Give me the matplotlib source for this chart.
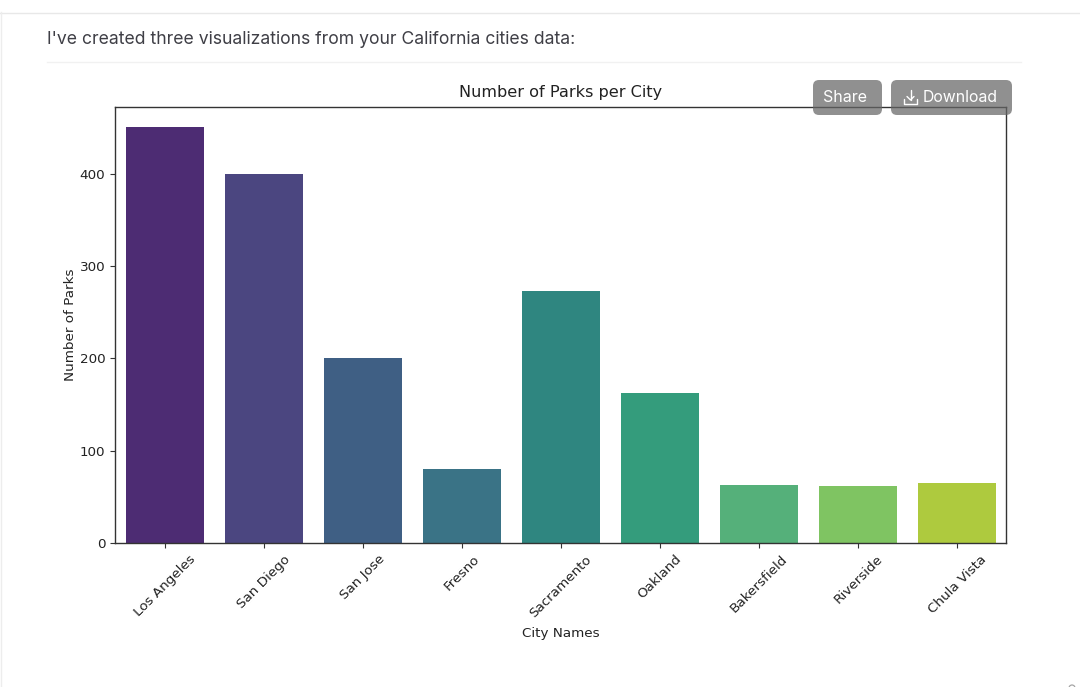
import matplotlib
matplotlib.use("Agg")
import matplotlib.pyplot as plt
from matplotlib.patches import FancyBboxPatch, Arc
from matplotlib.lines import Line2D

cities = ["Los Angeles", "San Diego", "San Jose", "Fresno", "Sacramento",
          "Oakland", "Bakersfield", "Riverside", "Chula Vista"]
parks = [450, 400, 200, 80, 273, 162, 63, 62, 65]
colors = ["#4d2c73", "#4b4680", "#3f5f84", "#3a7386", "#2f8680",
          "#349c7c", "#55b07a", "#7fc462", "#aeca3e"]
yticks = [0, 100, 200, 300, 400]

W, H = 1080, 687
fig = plt.figure(figsize=(W / 100, H / 100), dpi=100, facecolor="white")

def px_axes(l, t, r, b):
    return [l / W, 1 - b / H, (r - l) / W, (b - t) / H]

ax = fig.add_axes(px_axes(115, 107, 1006, 543))
ax.bar(range(len(cities)), parks, width=0.79, color=colors)
ax.set_xlim(-0.505, 8.495)
ax.set_ylim(0, 472)
ax.set_yticks(yticks)
ax.set_xticks(range(len(cities)))
ax.set_xticklabels(cities, rotation=45, ha="center", fontsize=9.7, color="#222222")
ax.tick_params(axis="y", labelsize=9.7, labelcolor="#222222", color="#333333")
ax.tick_params(axis="x", color="#333333")
ax.set_xlabel("City Names", fontsize=9.7, color="#222222", labelpad=5)
ax.set_ylabel("Number of Parks", fontsize=9.7, color="#222222", labelpad=2)
ax.set_title("Number of Parks per City", fontsize=11.6, color="#222222", pad=7)
for s in ax.spines.values():
    s.set_color("#333333")
    s.set_linewidth(1.0)

# Page chrome, in pixel coordinates
ov = fig.add_axes([0, 0, 1, 1], facecolor="none", zorder=5)
ov.set_xlim(0, W)
ov.set_ylim(H, 0)
ov.axis("off")
ov.add_line(Line2D([0, W], [12.5, 12.5], color="#e8e8e8", lw=1))
ov.add_line(Line2D([0.5, 0.5], [12, H], color="#ededed", lw=1))
ov.add_line(Line2D([47, 1021], [62, 62], color="#f1f1f1", lw=1))
ov.text(47, 38, "I've created three visualizations from your California cities data:",
        fontsize=12.65, family="Inter", color="#3f3f46", va="center_baseline", ha="left")

for x0, x1 in [(813, 882), (891, 1012)]:
    ov.add_patch(FancyBboxPatch((x0, 80), x1 - x0, 35,
                                boxstyle="round,pad=0,rounding_size=6",
                                linewidth=0, facecolor="#666666", alpha=0.72))
ov.text(845, 97.5, "Share", fontsize=11.5, family="Inter", color="white",
        va="center", ha="center")
ov.text(960, 97.5, "Download", fontsize=11.4, family="Inter", color="white",
        va="center", ha="center")
# Download icon
ico = dict(color="white", lw=1.0, solid_capstyle="round")
ov.add_line(Line2D([910.5, 910.5], [90, 100], **ico))
ov.add_line(Line2D([907, 910.5, 914], [96.5, 100, 96.5], **ico))
ov.add_line(Line2D([904, 904, 917, 917], [99, 104, 104, 99], **ico))
# Corner fragment at the bottom right
ov.add_patch(Arc((1072, 688), 6, 6, theta1=180, theta2=360, color="#a5a5a5", lw=0.9))

fig.savefig("out.png", dpi=100, facecolor="white")
